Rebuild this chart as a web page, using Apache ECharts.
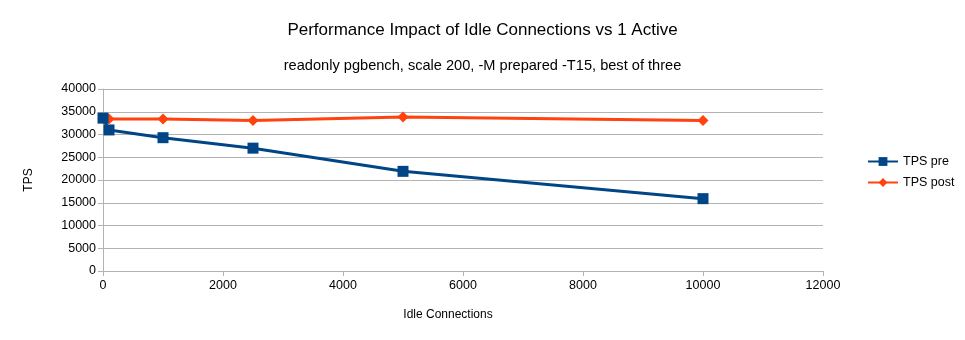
<!DOCTYPE html>
<html><head><meta charset="utf-8">
<script src="https://cdn.jsdelivr.net/npm/echarts@6/dist/echarts.min.js"></script>
<style>html,body{margin:0;padding:0;background:#fff}#c{width:965px;height:340px}</style>
</head><body><div id="c"></div>
<script>
const idleConnections = [0, 100, 1000, 2500, 5000, 10000];
const tpsPre = [33600, 31000, 29300, 27000, 21900, 15900];
const tpsPost = [33500, 33400, 33400, 33050, 33850, 33100];
const seriesNames = ['TPS pre', 'TPS post'];

const chart = echarts.init(document.getElementById('c'));
const font = 'Liberation Sans, Arial, sans-serif';
chart.setOption({
  animation: false,
  title: [
    {text: 'Performance Impact of Idle Connections vs 1 Active', left: 'center', top: 17,
     textStyle: {fontFamily: font, fontSize: 17, fontWeight: 'normal', color: '#000'}},
    {text: 'readonly pgbench, scale 200, -M prepared -T15, best of three', left: 'center', top: 53,
     textStyle: {fontFamily: font, fontSize: 14.6, fontWeight: 'normal', color: '#000'}}
  ],
  grid: {left: 103, right: 142, top: 89, bottom: 69, containLabel: false},
  legend: {
    orient: 'vertical', left: 862, top: 150, itemGap: 8, itemWidth: 30, itemHeight: 11,
    textStyle: {fontFamily: font, fontSize: 12.5, color: '#000'},
    data: seriesNames
  },
  xAxis: {
    type: 'value', min: 0, max: 12000, interval: 2000,
    name: 'Idle Connections', nameLocation: 'middle', nameGap: 38,
    nameTextStyle: {fontFamily: font, fontSize: 12, color: '#000', padding: [0, 30, 0, 0]},
    axisLine: {lineStyle: {color: '#b3b3b3'}},
    axisTick: {show: true, length: 5, lineStyle: {color: '#b3b3b3'}},
    axisLabel: {fontFamily: font, fontSize: 12.5, color: '#000', margin: 8, formatter: v => String(v)},
    splitLine: {show: false}
  },
  yAxis: {
    type: 'value', min: 0, max: 40000, interval: 5000,
    name: 'TPS', nameLocation: 'middle', nameGap: 68, nameRotate: 90,
    nameTextStyle: {fontFamily: font, fontSize: 12, color: '#000'},
    axisLine: {show: true, lineStyle: {color: '#b3b3b3'}},
    axisTick: {show: true, length: 5, lineStyle: {color: '#b3b3b3'}},
    axisLabel: {fontFamily: font, fontSize: 12.5, color: '#000', margin: 7, formatter: v => String(v)},
    splitLine: {show: true, lineStyle: {color: '#b3b3b3', width: 1}}
  },
  series: [
    {name: seriesNames[0], type: 'line', data: idleConnections.map((x, i) => [x, tpsPre[i]]),
     symbol: 'rect', symbolSize: 11, lineStyle: {width: 3, color: '#004586'},
     itemStyle: {color: '#004586'}, z: 3},
    {name: seriesNames[1], type: 'line', data: idleConnections.map((x, i) => [x, tpsPost[i]]),
     symbol: 'diamond', symbolSize: 11, lineStyle: {width: 3, color: '#ff420e'},
     itemStyle: {color: '#ff420e'}, z: 2}
  ]
});
</script></body></html>
